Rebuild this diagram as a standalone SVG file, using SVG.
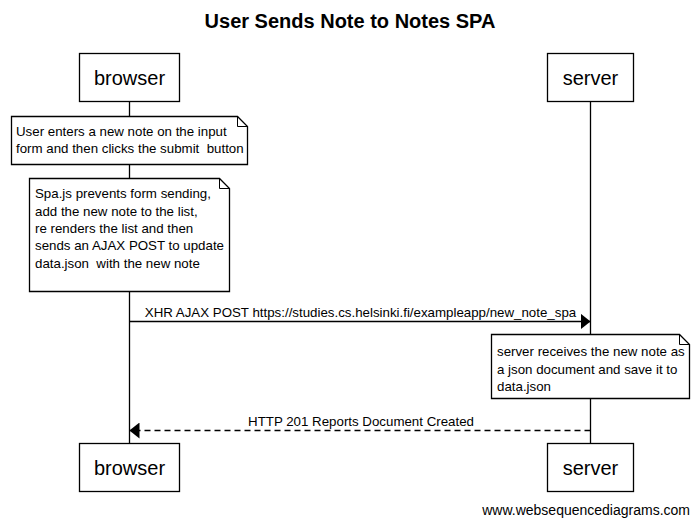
<svg xmlns="http://www.w3.org/2000/svg" width="699" height="527" viewBox="0 0 699 527">
<defs>
<style>
text{font-family:"Liberation Sans",Arial,sans-serif;fill:#000;white-space:pre}
.box{fill:#fff;stroke:#000;stroke-width:1.3}
.life{stroke:#000;stroke-width:1.3}
.part{font-size:20px;text-anchor:middle}
.note{font-size:13.3px}
.msg{font-size:13.3px;text-anchor:middle}
.title{font-size:20px;font-weight:bold;text-anchor:middle}
.wm{font-size:14px;text-anchor:end}
</style>
<marker id="ah" viewBox="0 0 10 16" refX="10" refY="8" markerWidth="10" markerHeight="16" markerUnits="userSpaceOnUse" orient="auto">
<path d="M0,0 L10,8 L0,16 Z" fill="#000"/>
</marker>
</defs>
<rect width="699" height="527" fill="#fff"/>
<text class="title" x="350" y="28">User Sends Note to Notes SPA</text>
<g id="lifelines">
<line class="life" x1="129.5" y1="102" x2="129.5" y2="443"/>
<line class="life" x1="590.5" y1="102" x2="590.5" y2="443"/>
</g>
<g id="browser-top"><rect class="box" x="79.5" y="53.5" width="100" height="48"/><text class="part" x="129.5" y="85">browser</text></g>
<g id="server-top"><rect class="box" x="547.5" y="53.5" width="86" height="48"/><text class="part" x="590.5" y="85">server</text></g>
<g id="note1">
<path class="box" d="M11.5,116.5 H237.5 L247.5,126.5 V164.5 H11.5 Z"/>
<path d="M237.5,116.5 V126.5 H247.5" fill="none" stroke="#000" stroke-width="1"/>
<text class="note" x="16" y="136.3">User enters a new note on the input</text>
<text class="note" x="16" y="153.3">form and then clicks the submit  button</text>
</g>
<g id="note2">
<path class="box" d="M29.5,178.5 H219.5 L229.5,188.5 V291.5 H29.5 Z"/>
<path d="M219.5,178.5 V188.5 H229.5" fill="none" stroke="#000" stroke-width="1"/>
<text class="note" x="35" y="198.3">Spa.js prevents form sending,</text>
<text class="note" x="35" y="215.6">add the new note to the list,</text>
<text class="note" x="35" y="233">re renders the list and then</text>
<text class="note" x="35" y="250.4">sends an AJAX POST to update</text>
<text class="note" x="35" y="267.7">data.json  with the new note</text>
</g>
<g id="note3">
<path class="box" d="M491.5,334.5 H679.5 L689.5,344.5 V398.5 H491.5 Z"/>
<path d="M679.5,334.5 V344.5 H689.5" fill="none" stroke="#000" stroke-width="1"/>
<text class="note" x="497" y="356">server receives the new note as</text>
<text class="note" x="497" y="373.5">a json document and save it to</text>
<text class="note" x="497" y="391">data.json</text>
</g>
<g id="connectors">
<line x1="129.5" y1="321.5" x2="590.5" y2="321.5" stroke="#000" stroke-width="1.3" marker-end="url(#ah)"/>
<text class="msg" x="360.5" y="317">XHR AJAX POST https://studies.cs.helsinki.fi/exampleapp/new_note_spa</text>
<line x1="590.5" y1="430.5" x2="129.5" y2="430.5" stroke="#000" stroke-width="1.3" stroke-dasharray="6,4" marker-end="url(#ah)"/>
<text class="msg" x="361" y="426">HTTP 201 Reports Document Created</text>
</g>
<g id="browser-bottom"><rect class="box" x="79.5" y="443.5" width="100" height="48"/><text class="part" x="129.5" y="475">browser</text></g>
<g id="server-bottom"><rect class="box" x="547.5" y="443.5" width="86" height="48"/><text class="part" x="590.5" y="475">server</text></g>
<text class="wm" x="690" y="515">www.websequencediagrams.com</text>
</svg>
